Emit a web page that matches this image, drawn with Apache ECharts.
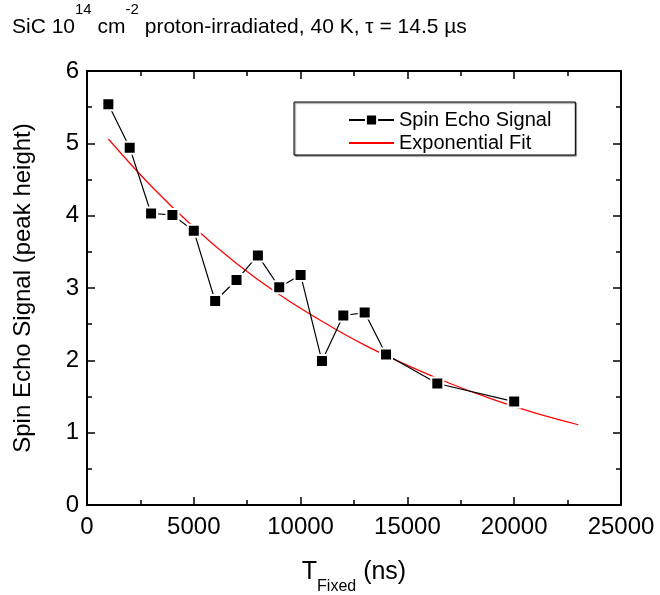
<!DOCTYPE html>
<html>
<head>
<meta charset="utf-8">
<script src="https://cdn.jsdelivr.net/npm/echarts@6/dist/echarts.min.js"></script>
<style>
  html, body { margin: 0; padding: 0; background: #fff; }
  #chart { width: 660px; height: 595px; }
</style>
</head>
<body>
<div id="chart"></div>
<script>
// Spin echo peak height versus fixed delay time (ns)
const delayTimes = [1000, 2000, 3000, 4000, 5000, 6000, 7000, 8000, 9000, 10000, 11000, 12000, 13000, 14000, 16400, 20000];
const echoHeights = [5.54, 4.94, 4.03, 4.01, 3.79, 2.82, 3.11, 3.45, 3.01, 3.18, 1.99, 2.62, 2.66, 2.08, 1.68, 1.43];

// Exponential fit curve, sampled along the delay axis
const fitTimes = [1000, 3000, 5000, 7000, 9000, 11000, 13000, 15000, 17000, 19000, 21000, 23000];
const fitHeights = [5.06, 4.41, 3.84, 3.34, 2.91, 2.54, 2.21, 1.93, 1.68, 1.46, 1.27, 1.11];

// Axis ranges, major and minor tick steps
const xRange = [0, 25000];
const xStep = 5000;
const xMinorStep = 2500;
const yRange = [0, 6];
const yStep = 1;
const yMinorStep = 0.5;

const seriesNames = ['Spin Echo Signal', 'Exponential Fit'];

const FONT = '"Liberation Sans", Arial, Helvetica, sans-serif';

// Frame axis with inward major ticks
function majorAxis(extra) {
  return Object.assign({
    type: 'value',
    axisLine: { show: true, onZero: false, lineStyle: { color: '#000', width: 2 } },
    axisTick: { show: true, inside: true, length: 8, lineStyle: { color: '#000', width: 1.5 } },
    axisLabel: { show: false },
    splitLine: { show: false }
  }, extra);
}

// Companion axis carrying only the shorter inward minor ticks
function minorAxis(extra) {
  return Object.assign({
    type: 'value',
    axisLine: { show: false, onZero: false },
    axisTick: { show: true, inside: true, length: 5, lineStyle: { color: '#000', width: 1.5 } },
    axisLabel: { show: false },
    splitLine: { show: false }
  }, extra);
}

const chart = echarts.init(document.getElementById('chart'), null, { renderer: 'canvas' });

chart.setOption({
  backgroundColor: '#fff',
  animation: false,
  title: {
    text: '{t|SiC 10}{s|14}{t| cm}{s|-2}{t| proton-irradiated, 40 K, τ = 14.5 µs}',
    left: 12,
    top: 2,
    padding: 0,
    textStyle: {
      rich: {
        t: { fontFamily: FONT, fontSize: 21, fontWeight: 'normal', color: '#000', lineHeight: 36, verticalAlign: 'bottom' },
        s: { fontFamily: FONT, fontSize: 15, fontWeight: 'normal', color: '#000', lineHeight: 19, verticalAlign: 'top' }
      }
    }
  },
  grid: { left: 87, right: 39, top: 71, bottom: 90, containLabel: false, outerBoundsMode: 'none' },
  legend: {
    data: [
      { name: seriesNames[0] },
      { name: seriesNames[1], itemStyle: { opacity: 0 } }
    ],
    orient: 'vertical',
    left: 294,
    top: 102,
    itemWidth: 45,
    itemHeight: 14,
    itemGap: 3,
    padding: [8, 24, 2, 54],
    borderColor: '#000',
    borderWidth: 1,
    shadowColor: 'rgba(0,0,0,0.6)',
    shadowOffsetX: 1,
    shadowOffsetY: 1,
    shadowBlur: 1,
    backgroundColor: '#fff',
    textStyle: { fontFamily: FONT, fontSize: 20, color: '#000', lineHeight: 20 }
  },
  xAxis: [
    majorAxis({
      position: 'bottom',
      min: xRange[0], max: xRange[1], interval: xStep,
      axisLabel: { show: true, color: '#000', fontFamily: FONT, fontSize: 24, margin: 10, formatter: v => String(v) },
      name: '{a|T}{b|Fixed}{a| (ns)}',
      nameLocation: 'middle',
      nameGap: 55,
      nameTextStyle: {
        rich: {
          a: { fontFamily: FONT, fontSize: 25, color: '#000', lineHeight: 26, verticalAlign: 'top' },
          b: { fontFamily: FONT, fontSize: 16, color: '#000', lineHeight: 35, verticalAlign: 'bottom' }
        }
      }
    }),
    majorAxis({ position: 'top', min: xRange[0], max: xRange[1], interval: xStep }),
    minorAxis({ position: 'bottom', min: xRange[0], max: xRange[1], interval: xMinorStep }),
    minorAxis({ position: 'top', min: xRange[0], max: xRange[1], interval: xMinorStep })
  ],
  yAxis: [
    majorAxis({
      position: 'left',
      min: yRange[0], max: yRange[1], interval: yStep,
      axisLabel: { show: true, color: '#000', fontFamily: FONT, fontSize: 24, margin: 8 },
      name: 'Spin Echo Signal (peak height)',
      nameLocation: 'middle',
      nameGap: 52,
      nameTextStyle: { fontFamily: FONT, fontSize: 24, color: '#000' }
    }),
    majorAxis({ position: 'right', min: yRange[0], max: yRange[1], interval: yStep }),
    minorAxis({ position: 'left', min: yRange[0], max: yRange[1], interval: yMinorStep }),
    minorAxis({ position: 'right', min: yRange[0], max: yRange[1], interval: yMinorStep })
  ],
  series: [
    {
      name: seriesNames[0],
      type: 'line',
      xAxisIndex: 0,
      yAxisIndex: 0,
      data: delayTimes.map((t, i) => [t, echoHeights[i]]),
      symbol: 'rect',
      symbolSize: 12,
      lineStyle: { color: '#000', width: 1.2 },
      itemStyle: { color: '#000', borderColor: '#fff', borderWidth: 2 },
      z: 3
    },
    {
      name: seriesNames[1],
      type: 'line',
      xAxisIndex: 0,
      yAxisIndex: 0,
      data: fitTimes.map((t, i) => [t, fitHeights[i]]),
      smooth: 0.4,
      symbol: 'none',
      lineStyle: { color: '#ff0000', width: 1.2 },
      itemStyle: { color: '#ff0000' },
      z: 2
    }
  ]
});
</script>
</body>
</html>
